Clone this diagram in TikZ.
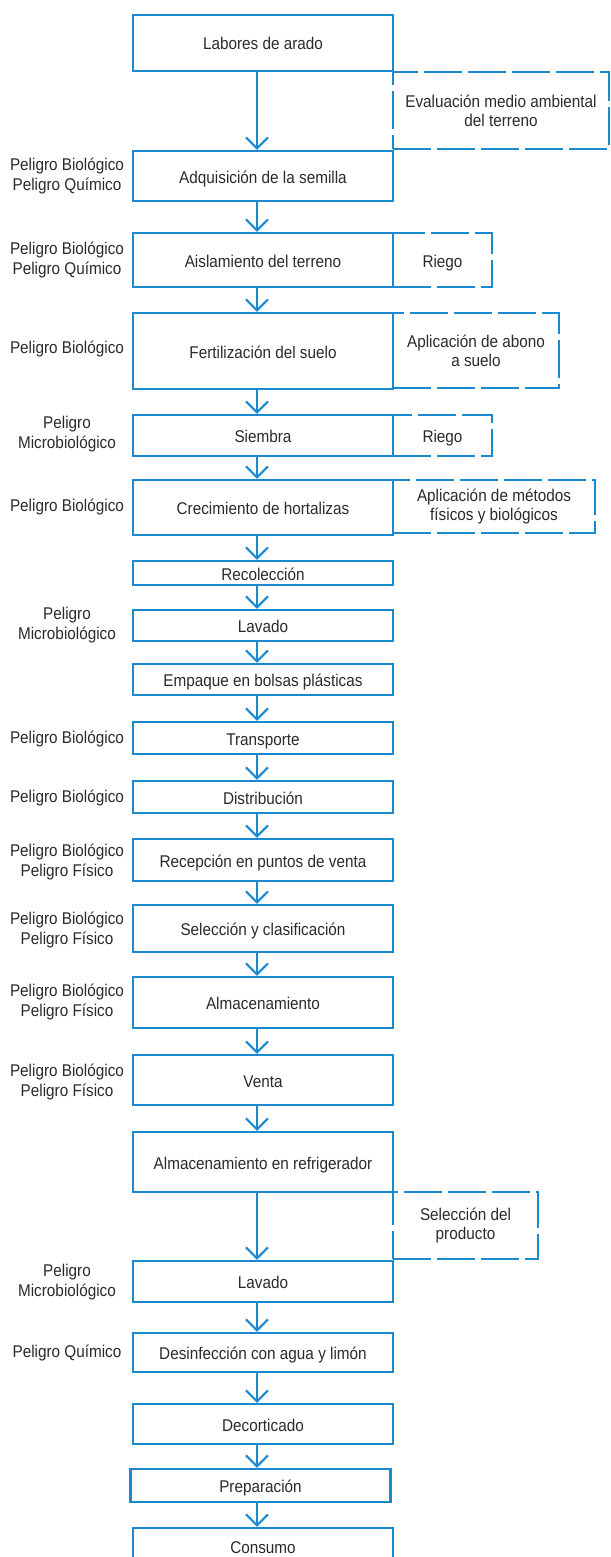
\documentclass[tikz,border=0pt]{standalone}
\usepackage{fontspec}
\setmainfont{Liberation Sans}[FakeStretch=0.9]
\usetikzlibrary{arrows.meta, positioning}
\definecolor{cblue}{HTML}{1A8AD0}
\definecolor{cdark}{HTML}{2A2A2A}
\tikzset{
  every picture/.style={font=\fontsize{17pt}{20pt}\selectfont, text=cdark},
  stage/.style={draw=cblue, line width=2.2pt, minimum width=260pt, inner sep=2pt, align=center,
    text height=14pt, text depth=0pt},
  sidebox/.style={draw=cblue, line width=2.2pt, dash pattern=on 38pt off 6pt, inner sep=2pt, align=center},
  hazard/.style={align=center},
  arrow/.style={-{Straight Barb[length=11pt, width=22pt]}, draw=cblue, line width=2.2pt},
}

\begin{document}
\begin{tikzpicture}[x=1pt, y=-1pt]
  \useasboundingbox (0,0) rectangle (610,1557);
  \coordinate (ax) at (257,0);
  % main line of stages
  \node[stage, minimum height=56pt] (b1) at (263,43) {Labores de arado};
  \node[stage, minimum height=50pt] (b2) at (263,176) {Adquisición de la semilla};
  \node[stage, minimum height=54pt] (b3) at (263,260) {Aislamiento del terreno};
  \node[stage, minimum height=76pt] (b4) at (263,351) {Fertilización del suelo};
  \node[stage, minimum height=41pt] (b5) at (263,435.5) {Siembra};
  \node[stage, minimum height=55pt] (b6) at (263,507.5) {Crecimiento de hortalizas};
  \node[stage, minimum height=24pt] (b7) at (263,573) {Recolección};
  \node[stage, minimum height=31pt] (b8) at (263,625.5) {Lavado};
  \node[stage, minimum height=31pt] (b9) at (263,679.5) {Empaque en bolsas plásticas};
  \node[stage, minimum height=32pt] (b10) at (263,738) {Transporte};
  \node[stage, minimum height=32pt] (b11) at (263,797) {Distribución};
  \node[stage, minimum height=42pt] (b12) at (263,860) {Recepción en puntos de venta};
  \node[stage, minimum height=47pt] (b13) at (263,928.5) {Selección y clasificación};
  \node[stage, minimum height=51pt] (b14) at (263,1002.5) {Almacenamiento};
  \node[stage, minimum height=50pt] (b15) at (263,1080) {Venta};
  \node[stage, minimum height=60pt] (b16) at (263,1162) {Almacenamiento en refrigerador};
  \node[stage, minimum height=41pt] (b17) at (263,1281.5) {Lavado};
  \node[stage, minimum height=39pt] (b18) at (263,1352.5) {Desinfección con agua y limón};
  \node[stage, minimum height=40pt] (b19) at (263,1424) {Decorticado};
  \node[stage, minimum height=33pt] (b20) at (260.5,1485.5) {Preparación};
  \node[stage, minimum height=36pt] (b21) at (263,1546) {Consumo};
  \foreach \i [count=\j from 2] in {1,...,20}
    \draw[arrow] (b\i.south -| ax) -- (b\j.north -| ax);
  % dashed side steps
  \node[sidebox, minimum width=216pt, minimum height=77pt] (s1) at (501,110.5) {Evaluación medio ambiental\\[-1pt]del terreno};
  \node[sidebox, minimum width=99pt, minimum height=54pt, text height=14pt, text depth=0pt] (s2) at (442.5,260) {Riego};
  \node[sidebox, minimum width=166pt, minimum height=75pt] (s3) at (476,350.5) {Aplicación de abono\\[-1pt]a suelo};
  \node[sidebox, minimum width=99pt, minimum height=41pt, text height=14pt, text depth=0pt] (s4) at (442.5,435.5) {Riego};
  \node[sidebox, minimum width=202pt, minimum height=53pt] (s5) at (494,506.5) {Aplicación de métodos\\[-1pt]físicos y biológicos};
  \node[sidebox, minimum width=145pt, minimum height=67pt] (s6) at (465.5,1225.5) {Selección del\\[-1pt]producto};
  % hazards
  \node[hazard] (h2) at (67,176) {Peligro Biológico\\Peligro Químico};
  \node[hazard] (h3) at (67,260) {Peligro Biológico\\Peligro Químico};
  \node[hazard] (h4) at (67,349) {Peligro Biológico};
  \node[hazard] (h5) at (67,434) {Peligro\\Microbiológico};
  \node[hazard] (h6) at (67,507) {Peligro Biológico};
  \node[hazard] (h8) at (67,625) {Peligro\\Microbiológico};
  \node[hazard] (h10) at (67,739) {Peligro Biológico};
  \node[hazard] (h11) at (67,798) {Peligro Biológico};
  \node[hazard] (h12) at (67,862) {Peligro Biológico\\Peligro Físico};
  \node[hazard] (h13) at (67,930) {Peligro Biológico\\Peligro Físico};
  \node[hazard] (h14) at (67,1002) {Peligro Biológico\\Peligro Físico};
  \node[hazard] (h15) at (67,1082) {Peligro Biológico\\Peligro Físico};
  \node[hazard] (h17) at (67,1282) {Peligro\\Microbiológico};
  \node[hazard] (h18) at (67,1353) {Peligro Químico};
\end{tikzpicture}
\end{document}
